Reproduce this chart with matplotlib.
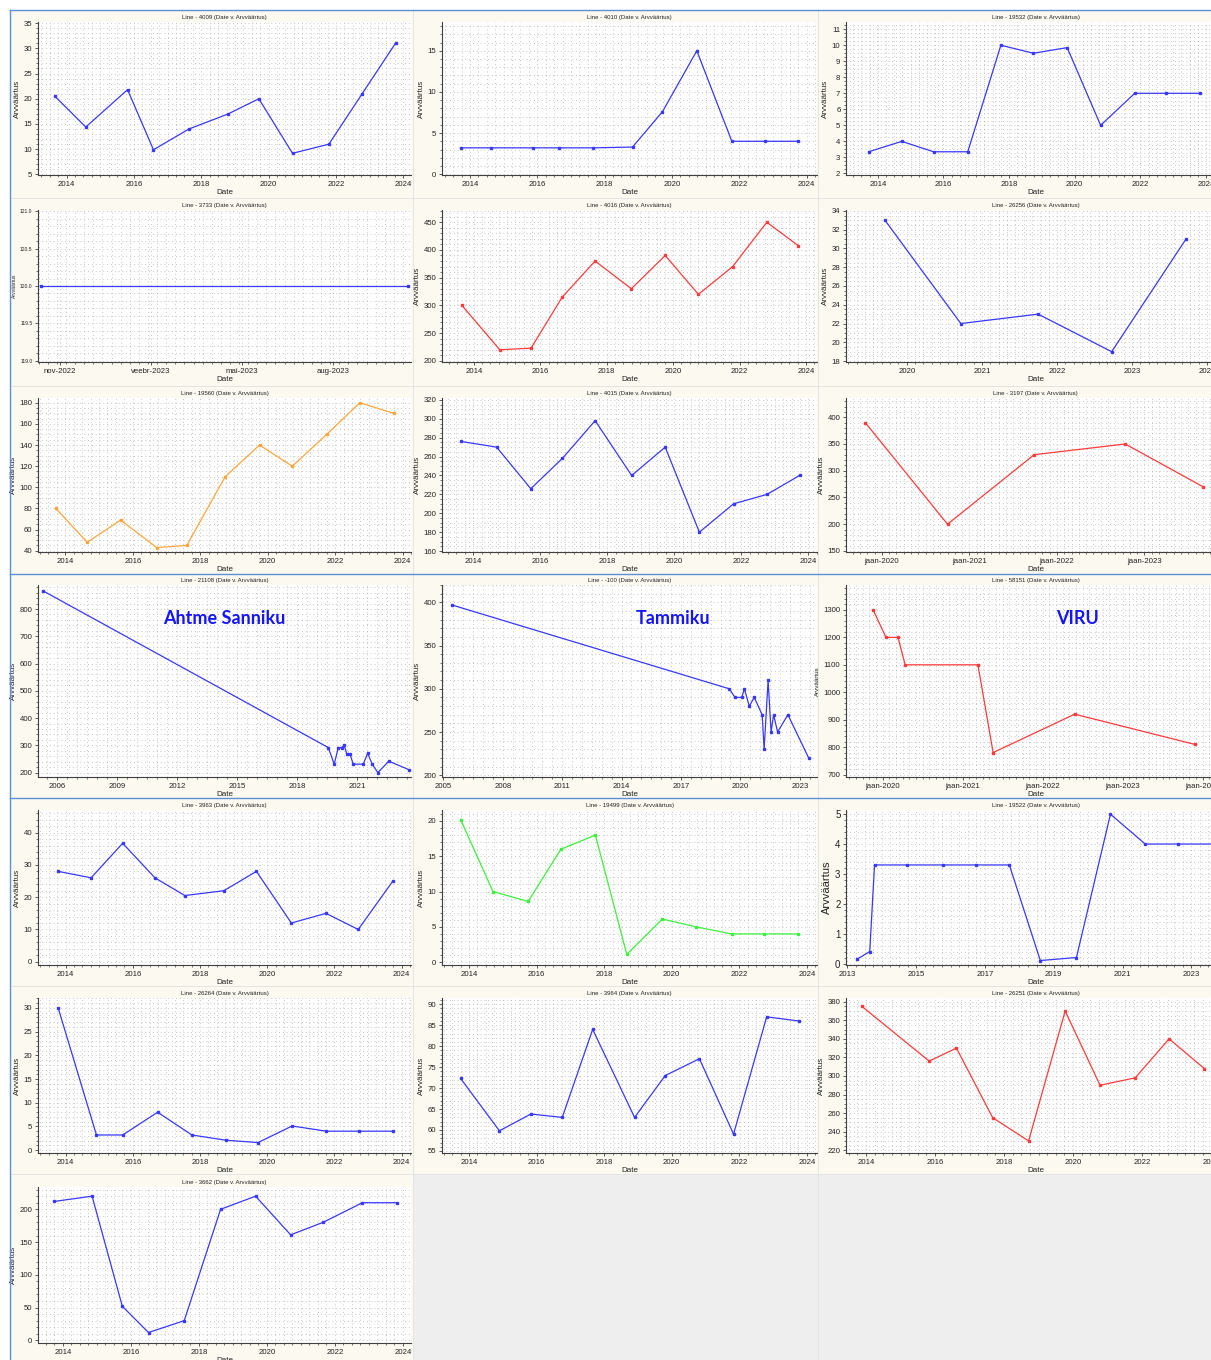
import matplotlib
matplotlib.use("Agg")
import matplotlib.pyplot as plt
from matplotlib.ticker import MultipleLocator, AutoMinorLocator, FixedLocator, FormatStrFormatter
from matplotlib.patches import Rectangle
from matplotlib.lines import Line2D

plt.rcParams['font.family'] = ['Liberation Sans', 'DejaVu Sans']

W, H = 1211, 1360

# --- series (x = date as decimal year, y = Arvväärtus) ---
x_4009 = [2013.65, 2014.57, 2015.81, 2016.58, 2017.63, 2018.80, 2019.71, 2020.71, 2021.79, 2022.78, 2023.77]
y_4009 = [20.5, 14.4, 21.8, 9.9, 14.0, 17.0, 20.0, 9.2, 11.0, 21.0, 31.0]

x_4010 = [2013.72, 2014.62, 2015.86, 2016.64, 2017.66, 2018.83, 2019.72, 2020.74, 2021.78, 2022.77, 2023.75]
y_4010 = [3.2, 3.2, 3.2, 3.2, 3.2, 3.3, 7.6, 15.0, 4.0, 4.0, 4.0]

x_19532 = [2013.72, 2014.73, 2015.70, 2016.74, 2017.75, 2018.74, 2019.77, 2020.79, 2021.83, 2022.79, 2023.81]
y_19532 = [3.35, 4.0, 3.35, 3.35, 10.0, 9.5, 9.85, 5.0, 7.0, 7.0, 7.0]

x_3733 = [2022.78, 2023.79]
y_3733 = [120.0, 120.0]

x_4016 = [2013.64, 2014.78, 2015.72, 2016.66, 2017.65, 2018.74, 2019.76, 2020.76, 2021.79, 2022.82, 2023.76]
y_4016 = [300, 220, 223, 315, 380, 330, 390, 320, 370, 450, 408]

x_26256 = [2019.71, 2020.72, 2021.75, 2022.73, 2023.72]
y_26256 = [33, 22, 23, 19, 31]

x_19560 = [2013.72, 2014.65, 2015.64, 2016.71, 2017.60, 2018.74, 2019.76, 2020.73, 2021.75, 2022.73, 2023.74]
y_19560 = [80, 48, 69, 43, 45, 110, 140, 120, 150, 180, 170]

x_4015 = [2013.64, 2014.70, 2015.72, 2016.66, 2017.64, 2018.73, 2019.73, 2020.75, 2021.77, 2022.77, 2023.74]
y_4015 = [276, 270, 226, 258, 298, 240, 270, 180, 210, 220, 240]

x_3197 = [2019.81, 2020.75, 2021.74, 2022.78, 2023.67]
y_3197 = [390, 200, 330, 350, 270]

x_21108 = [2005.27, 2019.55, 2019.85, 2020.05, 2020.22, 2020.35, 2020.47, 2020.63, 2020.80,
           2021.30, 2021.52, 2021.75, 2022.03, 2022.58, 2023.58]
y_21108 = [867, 292, 231, 292, 292, 300, 270, 270, 231, 231, 271, 231, 200, 242, 211]

x_100 = [2005.42, 2019.44, 2019.73, 2020.07, 2020.20, 2020.45, 2020.70, 2021.10, 2021.20,
         2021.40, 2021.55, 2021.68, 2021.88, 2022.40, 2023.45]
y_100 = [397, 300, 290, 290, 300, 280, 290, 270, 230, 310, 250, 270, 250, 270, 220]

x_58151 = [2019.88, 2020.04, 2020.19, 2020.28, 2021.19, 2021.38, 2022.40, 2023.90]
y_58151 = [1300, 1200, 1200, 1100, 1100, 780, 920, 810]

x_3963 = [2013.78, 2014.76, 2015.70, 2016.66, 2017.55, 2018.71, 2019.68, 2020.72, 2021.75, 2022.71, 2023.74]
y_3963 = [28, 26, 36.7, 26, 20.5, 22, 28, 12, 15, 10, 25]

x_19499 = [2013.75, 2014.71, 2015.75, 2016.72, 2017.74, 2018.67, 2019.72, 2020.73, 2021.77, 2022.73, 2023.74]
y_19499 = [20.2, 10, 8.6, 16, 18, 1.1, 6.1, 5.0, 4, 4, 4]

x_19522 = [2013.29, 2013.65, 2013.79, 2014.74, 2015.78, 2016.73, 2017.71, 2018.61, 2019.66,
           2020.65, 2021.66, 2022.60, 2023.65]
y_19522 = [0.15, 0.4, 3.3, 3.3, 3.3, 3.3, 3.3, 0.1, 0.2, 5, 4, 4, 4]

x_26264 = [2013.78, 2014.92, 2015.70, 2016.74, 2017.76, 2018.77, 2019.73, 2020.74, 2021.76, 2022.72, 2023.74]
y_26264 = [30, 3.2, 3.2, 8, 3.2, 2.1, 1.6, 5.1, 4, 4, 4]

x_3964 = [2013.75, 2014.90, 2015.83, 2016.76, 2017.66, 2018.90, 2019.81, 2020.82, 2021.83, 2022.81, 2023.77]
y_3964 = [72.3, 59.8, 63.8, 63, 84, 63, 73, 77, 59, 87, 86]

x_26251 = [2013.88, 2015.83, 2016.62, 2017.67, 2018.71, 2019.77, 2020.78, 2021.80, 2022.78, 2023.80]
y_26251 = [375, 316, 330, 255, 230, 370, 290, 298, 340, 308]

x_3662 = [2013.75, 2014.86, 2015.75, 2016.52, 2017.57, 2018.64, 2019.67, 2020.70, 2021.65, 2022.81, 2023.84]
y_3662 = [212, 220, 52, 12, 30, 200, 220, 161, 180, 210, 210]

# tick labels for the month-named axes
ticks_3733 = [2022.833, 2023.083, 2023.333, 2023.583]
labels_3733 = ['nov-2022', 'veebr-2023', 'mai-2023', 'aug-2023']
ticks_jaan = [2020, 2021, 2022, 2023, 2024]
labels_jaan = ['jaan-2020', 'jaan-2021', 'jaan-2022', 'jaan-2023', 'jaan-2024']

BLUE = '#3838ff'
RED = '#ff3a3a'
ORANGE = '#ffa53a'
GREEN = '#3cf03c'

# pixel layout of the dashboard grid
PANEL_X = [(10, 413), (413, 818), (818, 1211)]
PANEL_Y = [(10, 198), (198, 386), (386, 574), (574, 798), (798, 986), (986, 1174), (1174, 1360)]
AX_X = [(38, 411), (442, 817), (846, 1225)]
AX_Y = [(22, 175), (210, 362), (398, 552), (585, 777), (810, 965), (998, 1153), (1187, 1343)]


def px_rect(x0, y0, x1, y1):
    return [x0 / W, 1 - y1 / H, (x1 - x0) / W, (y1 - y0) / H]


fig = plt.figure(figsize=(W / 100, H / 100), dpi=100)
fig.patch.set_facecolor('white')

# panel backgrounds (behind the axes)
for r, (y0, y1) in enumerate(PANEL_Y):
    for c, (x0, x1) in enumerate(PANEL_X):
        face = '#eeeeee' if (r == 6 and c > 0) else '#fcf9f0'
        fig.patches.append(Rectangle((x0 / W, 1 - y1 / H), (x1 - x0) / W, (y1 - y0) / H,
                                     transform=fig.transFigure, facecolor=face,
                                     edgecolor='#e2e2e2', linewidth=0.6, zorder=-5))


def draw_panel(r, c, title, x, y, color, xlim, ylim, xticks, yticks, xlabels=None,
               xminor=0.25, yminor=5, yfmt=None, ytick_fs=5.6, ylabel_fs=5.8):
    ax = fig.add_axes(px_rect(AX_X[c][0], AX_Y[r][0], AX_X[c][1], AX_Y[r][1]))
    ax.set_zorder(1)
    ax.set_facecolor('white')
    ax.plot(x, y, color=color, lw=0.9, marker='s', ms=1.6, mec=color, mfc=color, zorder=3)
    ax.set_xlim(*xlim)
    ax.set_ylim(*ylim)
    ax.xaxis.set_major_locator(FixedLocator(xticks))
    if xlabels is not None:
        ax.set_xticklabels(labels=xlabels)
    else:
        ax.set_xticklabels([str(int(t)) for t in xticks])
    ax.xaxis.set_minor_locator(MultipleLocator(xminor))
    ax.yaxis.set_major_locator(FixedLocator(yticks))
    ax.yaxis.set_minor_locator(AutoMinorLocator(yminor))
    if yfmt:
        ax.yaxis.set_major_formatter(FormatStrFormatter(yfmt))
    ax.grid(which='both', linestyle=(0, (1, 4)), color='#a4a4a4', linewidth=0.55)
    for s in ('top', 'right'):
        ax.spines[s].set_visible(False)
    for s in ('left', 'bottom'):
        ax.spines[s].set_color('#404040')
        ax.spines[s].set_linewidth(0.8)
    ax.tick_params(which='major', length=2.5, width=0.6, color='#404040', pad=1.5)
    ax.tick_params(which='minor', length=1.2, width=0.5, color='#404040')
    ax.tick_params(axis='x', labelsize=5.6, labelcolor='#222222')
    ax.tick_params(axis='y', labelsize=ytick_fs, labelcolor='#222222')
    ax.set_title(title, fontsize=4.3, pad=2.5, color='#222222')
    ax.set_xlabel('Date', fontsize=5.8, labelpad=1, color='#222222')
    ax.set_ylabel('Arvväärtus', fontsize=ylabel_fs, labelpad=2, color='#222222')
    return ax


yrs2 = [2014, 2016, 2018, 2020, 2022, 2024]

draw_panel(0, 0, 'Line - 4009 (Date v. Arvväärtus)', x_4009, y_4009, BLUE,
           (2013.15, 2024.23), (4.9, 35.2), yrs2, [5, 10, 15, 20, 25, 30, 35])
draw_panel(0, 1, 'Line - 4010 (Date v. Arvväärtus)', x_4010, y_4010, BLUE,
           (2013.17, 2024.31), (-0.1, 18.5), yrs2, [0, 5, 10, 15])
draw_panel(0, 2, 'Line - 19532 (Date v. Arvväärtus)', x_19532, y_19532, BLUE,
           (2013.03, 2024.58), (1.9, 11.45), yrs2, list(range(2, 12)), yminor=4)

draw_panel(1, 0, 'Line - 3733 (Date v. Arvväärtus)', x_3733, y_3733, BLUE,
           (2022.773, 2023.797), (118.98, 121.02), ticks_3733, [119.0, 119.5, 120.0, 120.5, 121.0],
           xlabels=labels_3733, xminor=0.025, yfmt='%.1f', ytick_fs=3.6, ylabel_fs=3.6)
draw_panel(1, 1, 'Line - 4016 (Date v. Arvväärtus)', x_4016, y_4016, RED,
           (2013.04, 2024.33), (198, 472), yrs2, [200, 250, 300, 350, 400, 450])
draw_panel(1, 2, 'Line - 26256 (Date v. Arvväärtus)', x_26256, y_26256, BLUE,
           (2019.19, 2024.24), (17.9, 34.1), [2020, 2021, 2022, 2023, 2024],
           list(range(18, 35, 2)), xminor=1 / 9, yminor=4)

draw_panel(2, 0, 'Line - 19560 (Date v. Arvväärtus)', x_19560, y_19560, ORANGE,
           (2013.19, 2024.25), (38.8, 184.5), yrs2, list(range(40, 181, 20)), yminor=4)
draw_panel(2, 1, 'Line - 4015 (Date v. Arvväärtus)', x_4015, y_4015, BLUE,
           (2013.07, 2024.26), (159, 322), yrs2, list(range(160, 321, 20)), yminor=4)
draw_panel(2, 2, 'Line - 3197 (Date v. Arvväärtus)', x_3197, y_3197, RED,
           (2019.59, 2023.92), (148, 436), ticks_jaan, [150, 200, 250, 300, 350, 400],
           xlabels=labels_jaan, xminor=1 / 12)

draw_panel(3, 0, 'Line - 21108 (Date v. Arvväärtus)', x_21108, y_21108, BLUE,
           (2005.03, 2023.69), (184, 888), [2006, 2009, 2012, 2015, 2018, 2021],
           [200, 300, 400, 500, 600, 700, 800], xminor=0.5)
draw_panel(3, 1, 'Line - -100 (Date v. Arvväärtus)', x_100, y_100, BLUE,
           (2004.93, 2023.87), (198, 420), [2005, 2008, 2011, 2014, 2017, 2020, 2023],
           [200, 250, 300, 350, 400], xminor=0.5)
draw_panel(3, 2, 'Line - 58151 (Date v. Arvväärtus)', x_58151, y_58151, RED,
           (2019.54, 2024.28), (691, 1391), ticks_jaan, list(range(700, 1301, 100)),
           xlabels=labels_jaan, xminor=1 / 12, ylabel_fs=4.5)

draw_panel(4, 0, 'Line - 3963 (Date v. Arvväärtus)', x_3963, y_3963, BLUE,
           (2013.18, 2024.28), (-1, 47), yrs2, [0, 10, 20, 30, 40])
draw_panel(4, 1, 'Line - 19499 (Date v. Arvväärtus)', x_19499, y_19499, GREEN,
           (2013.2, 2024.3), (-0.4, 21.55), yrs2, [0, 5, 10, 15, 20])
draw_panel(4, 2, 'Line - 19522 (Date v. Arvväärtus)', x_19522, y_19522, BLUE,
           (2012.96, 2023.98), (-0.05, 5.14), [2013, 2015, 2017, 2019, 2021, 2023],
           [0, 1, 2, 3, 4, 5], ytick_fs=7, ylabel_fs=8)

draw_panel(5, 0, 'Line - 26264 (Date v. Arvväärtus)', x_26264, y_26264, BLUE,
           (2013.18, 2024.28), (-0.6, 32.1), yrs2, [0, 5, 10, 15, 20, 25, 30])
draw_panel(5, 1, 'Line - 3964 (Date v. Arvväärtus)', x_3964, y_3964, BLUE,
           (2013.2, 2024.3), (54.5, 91.5), yrs2, list(range(55, 91, 5)))
draw_panel(5, 2, 'Line - 26251 (Date v. Arvväärtus)', x_26251, y_26251, RED,
           (2013.42, 2024.4), (217, 384), yrs2, list(range(220, 381, 20)), yminor=4)

draw_panel(6, 0, 'Line - 3662 (Date v. Arvväärtus)', x_3662, y_3662, BLUE,
           (2013.27, 2024.24), (-4, 234), yrs2, [0, 50, 100, 150, 200])

# site names over the three middle charts
for label, cx in [('Ahtme Sanniku', 224), ('Tammiku', 673), ('VIRU', 1077)]:
    fig.text(cx / W, 1 - 619 / H, label, ha='center', va='center', fontsize=13,
             fontweight='bold', color='#1414ff', family=['Lato', 'DejaVu Sans'], zorder=10)

# group frame lines
frame = '#5b8fd6'
for yy in (10, 574, 798):
    fig.lines.append(Line2D([10 / W, 1], [1 - yy / H, 1 - yy / H], transform=fig.transFigure,
                            color=frame, lw=1.0, zorder=5))
fig.lines.append(Line2D([10 / W, 10 / W], [0, 1 - 10 / H], transform=fig.transFigure,
                        color=frame, lw=1.0, zorder=5))

fig.savefig('out.png', dpi=100, facecolor=fig.get_facecolor())
